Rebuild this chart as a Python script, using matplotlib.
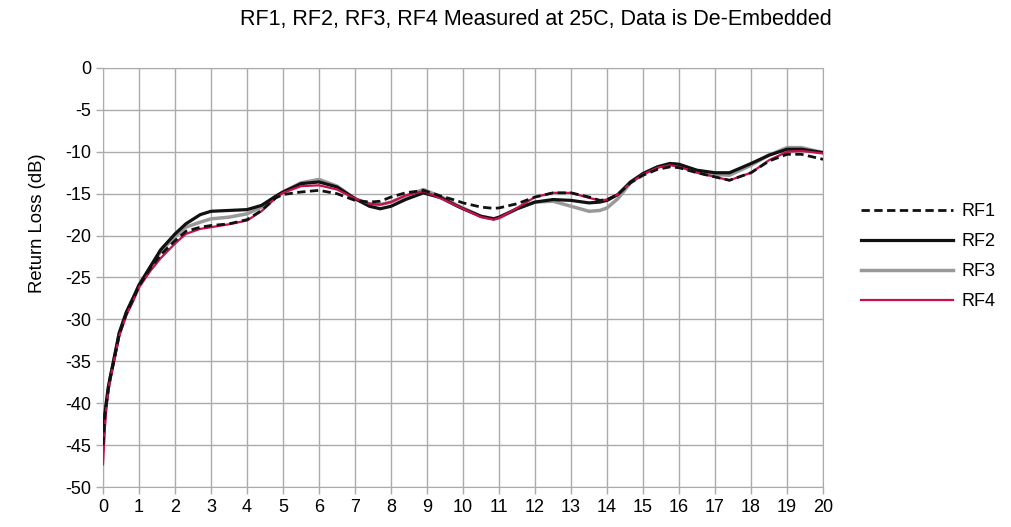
import matplotlib
matplotlib.use("Agg")
import matplotlib.pyplot as plt

plt.rcParams['font.family'] = ['Liberation Sans', 'DejaVu Sans']
plt.rcParams['axes.unicode_minus'] = False

# frequency points (GHz)
freq = [0, 0.05, 0.1, 0.15, 0.2, 0.3, 0.45, 0.65, 0.85, 1.0, 1.3, 1.6, 2.0, 2.3, 2.7,
        3.0, 3.5, 4.0, 4.4, 4.8, 5.0, 5.5, 6.0, 6.5, 7.0, 7.4, 7.7, 8.0, 8.4, 8.9,
        9.4, 9.8, 10.0, 10.5, 10.85, 11.0, 11.5, 12.0, 12.5, 13.0, 13.5, 13.8, 14.0,
        14.3, 14.65, 15.0, 15.4, 15.75, 16.0, 16.5, 17.0, 17.4, 18.0, 18.5, 19.0,
        19.4, 20.0]

rf1 = [-45.0, -41.5, -39.8, -38.2, -37.0, -35.0, -31.8, -29.3, -27.5, -26.0, -24.0,
       -22.3, -20.6, -19.5, -19.0, -18.8, -18.6, -18.1, -17.0, -15.5, -15.1, -14.8,
       -14.6, -15.0, -15.8, -16.0, -15.9, -15.4, -14.9, -14.6, -15.3, -15.8, -16.1,
       -16.6, -16.75, -16.7, -16.2, -15.4, -14.9, -14.9, -15.4, -15.8, -15.7, -15.1,
       -13.7, -12.8, -12.1, -11.8, -11.9, -12.5, -13.0, -13.4, -12.5, -11.1, -10.3,
       -10.3, -10.9]

rf2 = [-44.5, -41.3, -39.6, -38.0, -36.9, -34.8, -31.6, -29.1, -27.3, -25.9, -23.8,
       -21.7, -19.8, -18.6, -17.5, -17.1, -17.0, -16.9, -16.4, -15.3, -14.8, -13.8,
       -13.6, -14.2, -15.6, -16.5, -16.8, -16.5, -15.7, -14.9, -15.5, -16.4, -16.8,
       -17.7, -18.0, -17.8, -16.8, -16.0, -15.7, -15.8, -16.1, -16.0, -15.8, -15.1,
       -13.6, -12.6, -11.8, -11.4, -11.5, -12.2, -12.5, -12.5, -11.4, -10.4, -9.7,
       -9.7, -10.1]

rf3 = [-45.5, -41.6, -39.8, -38.2, -37.0, -34.9, -31.7, -29.2, -27.4, -25.9, -23.9,
       -21.9, -20.1, -19.0, -18.4, -18.0, -17.8, -17.4, -16.6, -15.3, -14.8, -13.7,
       -13.3, -14.1, -15.6, -16.2, -16.3, -16.0, -15.3, -14.5, -15.4, -16.3, -16.7,
       -17.7, -18.0, -17.9, -16.8, -16.0, -15.9, -16.5, -17.1, -17.0, -16.7, -15.6,
       -13.7, -12.6, -11.8, -11.4, -11.5, -12.3, -12.7, -12.8, -11.6, -10.4, -9.5,
       -9.5, -10.1]

rf4 = [-47.3, -43.0, -40.2, -38.4, -37.2, -35.1, -32.0, -29.5, -27.7, -26.2, -24.3,
       -22.7, -20.95, -19.8, -19.2, -19.0, -18.65, -18.2, -17.1, -15.5, -14.9, -14.1,
       -14.0, -14.5, -15.6, -16.2, -16.3, -16.0, -15.2, -14.7, -15.6, -16.4, -16.8,
       -17.8, -18.1, -17.9, -16.7, -15.4, -14.9, -14.9, -15.5, -15.8, -15.7, -15.1,
       -13.7, -12.7, -11.9, -11.6, -11.8, -12.5, -13.0, -13.4, -12.5, -11.0, -10.0,
       -9.9, -10.2]

fig = plt.figure(figsize=(10.12, 5.27), dpi=100)
ax = fig.add_axes([0.1018, 0.0759, 0.7115, 0.7951])

l3, = ax.plot(freq, rf3, color='#999999', lw=2.5, zorder=3, label='RF3')
l2, = ax.plot(freq, rf2, color='#111111', lw=2.3, zorder=4, label='RF2')
l4, = ax.plot(freq, rf4, color='#C8104A', lw=1.6, zorder=5, label='RF4')
l1, = ax.plot(freq, rf1, color='#111111', lw=2.0, ls=(0, (3, 1.6)), zorder=6, label='RF1')

ax.set_xlim(0, 20)
ax.set_ylim(-50, 0)
ax.set_xticks(range(0, 21))
ax.set_yticks(range(-50, 1, 5))
ax.grid(True, color='#ABABAB', lw=1.0)
ax.set_axisbelow(True)
for s in ax.spines.values():
    s.set_color('#ABABAB')
ax.tick_params(axis='both', colors='#ABABAB', labelcolor='black', labelsize=13,
               length=5, width=1.0)

# chart title centred over whole chart area, axis title nudged up like the original
fig.text(536 / 1012, 1 - 19 / 527, 'RF1, RF2, RF3, RF4 Measured at 25C, Data is De-Embedded',
         fontsize=15.5, ha='center', va='center')
fig.text(38 / 1012, 1 - 223 / 527, 'Return Loss (dB)', fontsize=13.3, rotation=90,
         ha='center', va='center')

ax.legend([l1, l2, l3, l4], ['RF1', 'RF2', 'RF3', 'RF4'], loc='center left',
          bbox_to_anchor=(1.03, 0.549), frameon=False, fontsize=13,
          handlelength=5.1, handletextpad=0.45, labelspacing=0.72)

fig.savefig('out.png', dpi=100)
